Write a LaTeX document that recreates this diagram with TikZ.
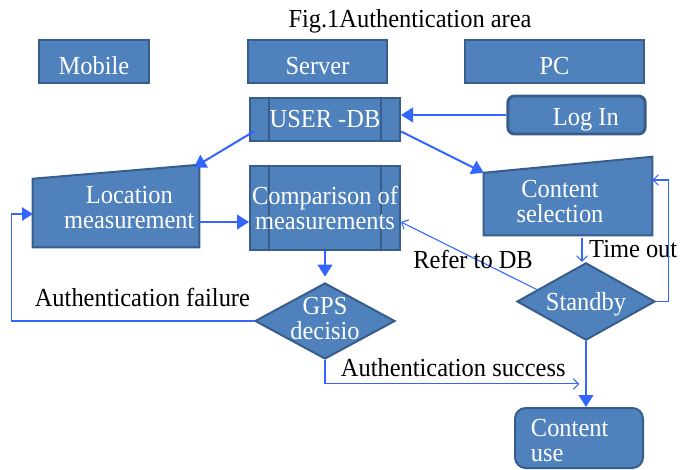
\documentclass[tikz,border=0pt]{standalone}
\usepackage{fontspec}
\setmainfont{Liberation Serif}[FakeStretch=0.94]
\usetikzlibrary{shapes.geometric,arrows.meta,calc,backgrounds}
\definecolor{boxblue}{RGB}{79,129,189}
\definecolor{boxedge}{RGB}{56,93,138}
\definecolor{linkblue}{RGB}{51,102,255}
\newcommand{\chartfont}{\fontsize{19.5}{19}\selectfont}
\tikzstyle{block} = [rectangle, draw=boxedge, fill=boxblue, line width=1.5pt, inner sep=0pt, text=white, font=\chartfont, align=center]
\tikzstyle{lowtext} = [text height=19pt, text depth=0pt]
\tikzstyle{predef} = [block, path picture={
  \draw[boxedge, line width=1.5pt]
    ([xshift=14pt]path picture bounding box.north west) -- ([xshift=14pt]path picture bounding box.south west)
    ([xshift=-14pt]path picture bounding box.north east) -- ([xshift=-14pt]path picture bounding box.south east);}]
\tikzstyle{manual} = [rectangle, inner sep=0pt]
\tikzstyle{decision} = [diamond, draw=boxedge, fill=boxblue, line width=1.5pt, inner sep=0pt]
\tikzstyle{intext} = [text=white, font=\chartfont, align=center, inner sep=0pt]
\tikzstyle{lbl} = [font=\chartfont, inner sep=0pt]
\tikzstyle{shapeline} = [draw=boxedge, fill=boxblue, line width=1.5pt]
\tikzstyle{flow} = [draw=linkblue, line width=1.5pt, -{Triangle[length=9pt,width=11pt]}]
\tikzstyle{retry} = [draw=linkblue, line width=1.1pt, -{Triangle[length=8pt,width=10pt]}]
\tikzstyle{link} = [draw=linkblue, line width=0.8pt, -{Straight Barb[length=4pt,width=8pt]}]

\begin{document}
\begin{tikzpicture}[x=0.75pt, y=-0.75pt]
\useasboundingbox (0,0) rectangle (682,470);

\node[lbl] (title) at (410,21) {Fig.1Authentication area};

\node[block, lowtext, minimum width=82.5pt, minimum height=32pt] (mobile) at (94,61.5) {Mobile};
\node[block, lowtext, minimum width=104pt, minimum height=32pt] (server) at (317.5,61.5) {Server};
\node[block, lowtext, minimum width=134pt, minimum height=32pt] (pc) at (554.5,61.5) {PC};

\node[predef, minimum width=112.5pt, minimum height=32pt] (db) at (325,119.5) {USER -DB};
\node[block, rounded corners=5pt, line width=2.2pt, minimum width=103pt, minimum height=28.5pt, text height=16pt, text depth=0pt] (login) at (576.5,115) {\hspace*{14pt}Log In};

\node[manual, minimum width=124.5pt, minimum height=61.5pt,
  label={[intext, xshift=10pt, yshift=-1pt]center:{Location\\measurement}}] (loc) at (116,206) {};
\node[predef, minimum width=112.5pt, minimum height=63pt] (cmp) at (325,208) {Comparison of\\measurements};
\node[manual, minimum width=126pt, minimum height=58.5pt,
  label={[intext, xshift=-6pt, yshift=-4pt]center:{Content\\selection}}] (csel) at (568,196) {};

\node[decision, minimum width=105pt, minimum height=57pt,
  label={[intext, font=\fontsize{19.5}{18.5}\selectfont, yshift=2pt]center:{GPS\\decisio}}] (gps) at (325,321) {};
\node[decision, minimum width=103.5pt, minimum height=58pt,
  label={[intext, yshift=-2pt]center:Standby}] (stby) at (586,301.5) {};
\node[block, rounded corners=8pt, minimum width=96pt, minimum height=45pt,
  label={[intext, align=left, xshift=-7pt, yshift=-2pt]center:{Content\\use}}] (cuse) at (579,438) {};

\begin{scope}[on background layer]
\draw[shapeline] ([yshift=-10.5pt]loc.north west) -- (loc.north east) -- (loc.south east) -- (loc.south west) -- cycle;
\draw[shapeline] ([yshift=-12pt]csel.north west) -- (csel.north east) -- (csel.south east) -- (csel.south west) -- cycle;
\end{scope}

\draw[flow] (login.west) -- (login.west -| db.east);
\draw[flow] ([xshift=4pt,yshift=8pt]db.south west) -- ([xshift=-4pt,yshift=-2pt]loc.north east);
\draw[flow] ([yshift=-9pt]db.east) -- ([yshift=-12pt]csel.north west);
\draw[flow] ([yshift=-12pt]loc.east) -- ([yshift=-12pt]loc.east -| cmp.west);
\draw[flow, shorten >=4pt] (cmp.south) -- (gps.north);
\draw[retry] (gps.west) -| ([xshift=-16pt,yshift=-6pt]loc.west)
  node[lbl, pos=0.23, above=10pt] {Authentication failure}
  -- ([yshift=-6pt]loc.west);
\draw[link, shorten >=1.5pt] (gps.south) |- ($(stby.south)!0.65!(cuse.north)$)
  node[lbl, pos=0.75, above=5pt] {Authentication success};
\draw[flow] (stby.south) -- (stby.south |- cuse.north);
\draw[link, shorten <=2pt] ([xshift=-3pt]stby.north |- csel.south) -- ([xshift=-3pt]stby.north)
  node[lbl, pos=0.5, right=5pt] {Time out};
\draw[link] (stby.east) -| ([xshift=12pt,yshift=12pt]csel.east) -- ([yshift=12pt]csel.east);
\draw[link] ($(stby.west)!0.3!(stby.north)$) -- ([yshift=-10.5pt]cmp.east)
  node[lbl, pos=0.47, yshift=-1pt] {Refer to DB};
\end{tikzpicture}
\end{document}
